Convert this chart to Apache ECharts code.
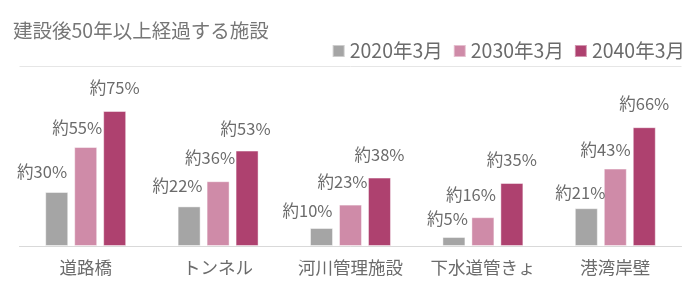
<!DOCTYPE html>
<html>
<head>
<meta charset="utf-8">
<script src="https://cdn.jsdelivr.net/npm/echarts@6/dist/echarts.min.js"></script>
<style>html,body{margin:0;padding:0;background:#fff}#c{width:700px;height:286px}</style>
</head>
<body>
<div id="c"></div>
<script>
var categories = ['道路橋', 'トンネル', '河川管理施設', '下水道管きょ', '港湾岸壁'];
var seriesNames = ['2020年3月', '2030年3月', '2040年3月'];
var values2020 = [30, 22, 10, 5, 21];
var values2030 = [55, 36, 23, 16, 43];
var values2040 = [75, 53, 38, 35, 66];
var titleText = '建設後50年以上経過する施設';

// label placement offsets (style only)
var offs2020 = [[-14.6, -12], [-11.6, -12.7], [-14, -9.6], [-6.4, -10], [-6, -7.3]];
var offs2030 = [[-8.5, -11.5], [-8, -15], [-8, -15], [-12, -14.6], [-9.7, -11]];
var offs2040 = [[0, -15], [-1.5, -14], [0, -14.7], [0, -15.3], [0, -15.7]];
var colors = ['#A5A5A5', '#CF8BA8', '#AE416F'];

var font = '"Noto Sans CJK JP", "Noto Sans", sans-serif';
function mk(name, vals, offs, color) {
  return {
    name: name,
    type: 'bar',
    barWidth: 23,
    barGap: '26%',
    itemStyle: { color: color, borderColor: 'rgba(255,255,255,0.45)', borderWidth: 1 },
    data: vals.map(function (v, i) {
      return {
        value: v,
        label: { offset: offs[i] }
      };
    }),
    label: {
      show: true,
      position: 'top',
      distance: 0,
      formatter: function (p) { return '約' + p.value + '%'; },
      color: '#6b6b6b',
      fontSize: 16.5,
      lineHeight: 16,
      fontFamily: font
    }
  };
}

var chart = echarts.init(document.getElementById('c'), null, { renderer: 'canvas' });
chart.setOption({
  animation: false,
  backgroundColor: '#fff',
  title: {
    text: titleText,
    left: 13,
    top: 19,
    padding: 0,
    textStyle: { color: '#767676', fontSize: 19.5, fontWeight: 'normal', lineHeight: 24, fontFamily: font }
  },
  legend: {
    data: seriesNames,
    right: 15,
    top: 40,
    padding: 0,
    itemWidth: 12,
    itemHeight: 12,
    itemGap: 10,
    icon: 'rect',
    textStyle: { color: '#6b6b6b', fontSize: 19.5, lineHeight: 22, fontFamily: font }
  },
  grid: { left: 19.5, right: 18.5, top: 66, bottom: 40, containLabel: false },
  xAxis: {
    type: 'category',
    data: categories,
    axisLine: { lineStyle: { color: '#d9d9d9', width: 1 } },
    axisTick: { show: false },
    axisLabel: { interval: 0, hideOverlap: false, color: '#6b6b6b', fontSize: 17.5, lineHeight: 18, margin: 12, fontFamily: font }
  },
  yAxis: {
    type: 'value',
    min: 0,
    max: 100,
    interval: 100,
    axisLabel: { show: false },
    axisLine: { show: false },
    axisTick: { show: false },
    splitLine: { lineStyle: { color: '#e6e6e6', width: 1 } }
  },
  series: [
    mk(seriesNames[0], values2020, offs2020, colors[0]),
    mk(seriesNames[1], values2030, offs2030, colors[1]),
    mk(seriesNames[2], values2040, offs2040, colors[2])
  ]
});
</script>
</body>
</html>
